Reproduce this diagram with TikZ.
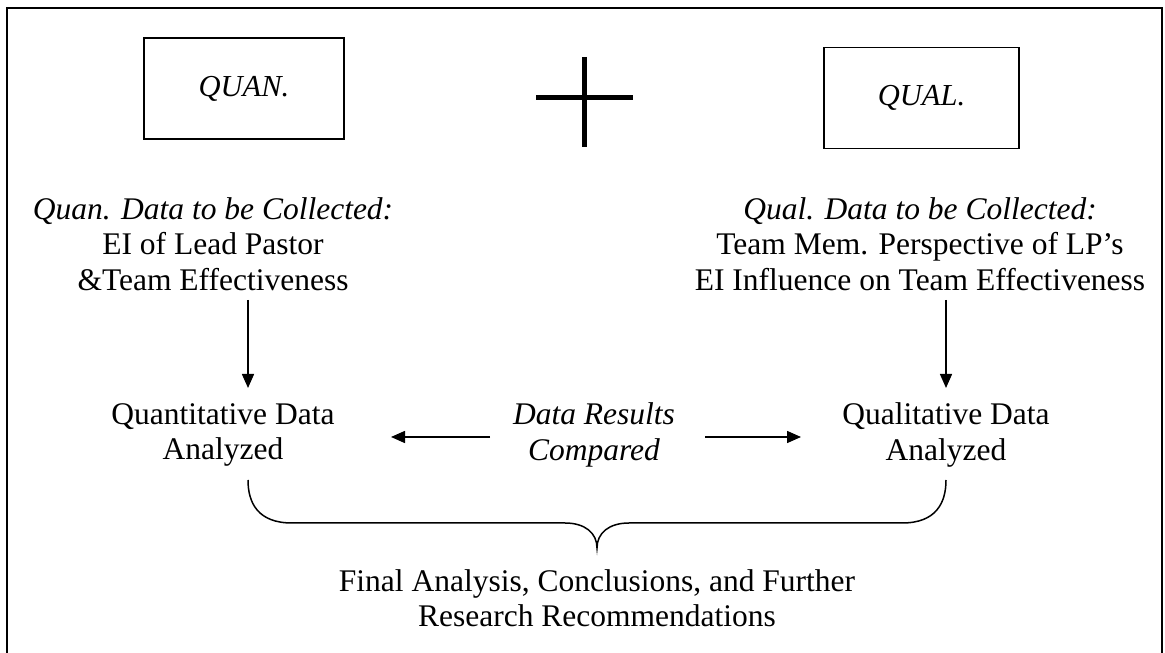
\documentclass[tikz,border=0pt]{standalone}
\usepackage{fontspec}
\setmainfont{Liberation Serif}
\usetikzlibrary{arrows.meta}
\begin{document}
\begin{tikzpicture}[x=1pt,y=1pt,
  txt/.style={align=center,inner sep=0pt,font=\fontsize{31.5}{35.5}\selectfont},
  mbox/.style={draw,line width=1.6pt,minimum height=101pt,inner sep=0pt,font=\fontsize{30.5}{35.5}\selectfont\itshape},
  arr/.style={line width=1.5pt,-{Triangle[length=14pt,width=12pt]}},
  bar/.style={line width=5pt}]
\useasboundingbox (0,0) rectangle (1165,653);
\draw[line width=2.5pt] (7,-20) rectangle (1162,645);
% boxes
\node[mbox,minimum width=200pt] (quan) at (244,564.5) {QUAN.};
\node[mbox,minimum width=195pt] (qual) at (921.5,555) {QUAL.};
% plus sign
\coordinate (pl) at (536,555);
\coordinate (pr) at (633,555);
\coordinate (pt) at (584,596);
\coordinate (pb) at (584,506);
\draw[bar] (pl) -- (pr);
\draw[bar] (pt) -- (pb);
% text blocks
\node[txt] (lblock) at (213,409) {\textit{Quan. Data to be Collected:}\\EI of Lead Pastor\\\&Team Effectiveness};
\node[txt] (rblock) at (920,409) {\textit{Qual. Data to be Collected:}\\Team Mem. Perspective of LP’s\\EI Influence on Team Effectiveness};
\node[txt] (quant) at (223,218) {Quantitative Data\\Analyzed};
\node[txt] (comp) at (594,218) {\textit{Data Results}\\\textit{Compared}};
\node[txt] (qualt) at (946,218) {Qualitative Data\\Analyzed};
\node[txt] (final) at (597,55) {Final Analysis, Conclusions, and Further\\Research Recommendations};
% arrows
\coordinate (la1) at (248,353);
\coordinate (la2) at (248,265);
\coordinate (ra1) at (946,353);
\coordinate (ra2) at (946,265);
\draw[arr] (la1) -- (la2);
\draw[arr] (ra1) -- (ra2);
\coordinate (ha1) at (490,216);
\coordinate (ha2) at (391,216);
\coordinate (hb1) at (705,216);
\coordinate (hb2) at (801,216);
\draw[arr] (ha1) -- (ha2);
\draw[arr] (hb1) -- (hb2);
% brace
\draw[line width=1.5pt] (248,173) .. controls (248,150) and (258,130) .. (292,130) -- (565,130)
  .. controls (585,130) and (597,120) .. (597,105)
  .. controls (597,120) and (609,130) .. (629,130) -- (902,130)
  .. controls (936,130) and (946,150) .. (946,173);
\end{tikzpicture}
\end{document}
